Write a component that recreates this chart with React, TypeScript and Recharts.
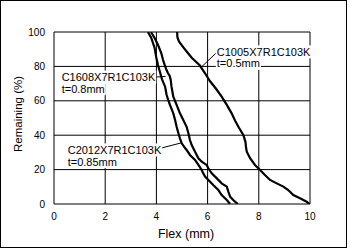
import React from 'react';
import { LineChart, Line, XAxis, YAxis, CartesianGrid, ReferenceLine, ReferenceDot } from 'recharts';

const xTicks = [0, 2, 4, 6, 8, 10];
const yTicks = [0, 20, 40, 60, 80, 100];

// C1005X7R1C103K t=0.5mm
const c1005Flex = [4.81, 4.82, 4.88, 5.12, 5.38, 5.70, 5.90, 6.09, 6.33, 6.55, 6.75, 6.94, 7.07, 7.22, 7.40, 7.48, 7.50, 7.53, 7.66, 7.85, 8.05, 8.24, 8.44, 8.70, 8.96, 9.15, 9.35, 9.61, 9.87, 9.98];
const c1005Remaining = [100, 97, 94.5, 89.8, 85, 80.5, 76, 71.5, 67, 62.4, 57.6, 52.7, 48.5, 44.5, 40, 36, 33, 30.4, 26.6, 22.7, 19.8, 16.9, 14.0, 12.0, 10.1, 8.1, 5.2, 3.3, 1.3, 0];

// C2012X7R1C103K t=0.85mm
const c2012Flex = [3.67, 3.80, 3.93, 4.00, 4.06, 4.13, 4.22, 4.34, 4.40, 4.46, 4.53, 4.66, 4.73, 4.79, 4.86, 4.92, 4.99, 5.08, 5.18, 5.31, 5.51, 5.64, 5.77, 5.83, 5.90, 6.03, 6.22, 6.42, 6.55, 6.75, 6.88];
const c2012Remaining = [100, 96.5, 90.7, 84.9, 81.0, 77.2, 72.5, 68.2, 63.4, 60.5, 57.6, 52.7, 48.8, 44.9, 41.1, 38.2, 35.3, 33.4, 31.4, 28.5, 25.6, 22.7, 19.8, 17.8, 15.9, 14.0, 11.0, 8.1, 5.2, 2.3, 0];

// C1608X7R1C103K t=0.8mm
const c1608Flex = [3.79, 3.93, 4.06, 4.19, 4.26, 4.32, 4.38, 4.45, 4.52, 4.56, 4.59, 4.66, 4.79, 4.92, 5.05, 5.18, 5.25, 5.31, 5.38, 5.51, 5.64, 5.77, 5.96, 6.03, 6.16, 6.36, 6.55, 6.75, 6.81, 6.88, 7.00, 7.18];
const c1608Remaining = [100, 96.5, 92.6, 87.8, 83.7, 81.0, 78.5, 76.2, 74.4, 72.1, 68.2, 62.4, 57.6, 52.7, 48.8, 44.9, 41.1, 37.2, 34.3, 30.4, 26.6, 24.6, 22.7, 20.8, 17.8, 14.9, 12.0, 10.1, 7.2, 4.2, 2.3, 0];

const annotationLines = [
  ['C1005X7R1C103K', 't=0.5mm'],
  ['C1608X7R1C103K', 't=0.8mm'],
  ['C2012X7R1C103K', 't=0.85mm'],
];
const annotationAnchorX = [6.36, 0.30, 0.535];
const annotationAnchorY = [88.5, 73.8, 31.4];
const arrowFrom = [{ x: 6.32, y: 87.6 }, { x: 3.96, y: 73.8 }, { x: 3.98, y: 31.7 }];
const arrowTo = [{ x: 5.77, y: 79.8 }, { x: 4.36, y: 74.2 }, { x: 4.96, y: 35.5 }];

const FONT = '"Liberation Sans", Arial, Helvetica, sans-serif';

const toPoints = (xs: number[], ys: number[]) => xs.map((x, i) => ({ x, y: ys[i] }));
const series = [
  { name: 'C1005X7R1C103K', data: toPoints(c1005Flex, c1005Remaining) },
  { name: 'C1608X7R1C103K', data: toPoints(c1608Flex, c1608Remaining) },
  { name: 'C2012X7R1C103K', data: toPoints(c2012Flex, c2012Remaining) },
];

let measureCtx: CanvasRenderingContext2D | null = null;
const measure = (s: string, size: number) => {
  if (!measureCtx) {
    const c = document.createElement('canvas');
    measureCtx = c.getContext('2d');
  }
  if (!measureCtx) return s.length * size * 0.6;
  measureCtx.font = `${size}px ${FONT}`;
  return measureCtx.measureText(s).width;
};

const makeAnnotation = (lines: string[]) => (props: any) => {
  const vb = props.viewBox || {};
  const cx = vb.x + (vb.width || 0) / 2;
  const cy = vb.y + (vb.height || 0) / 2;
  const lh = 11.6;
  return (
    <g>
      {lines.map((t, i) => {
        const w = measure(t, 11);
        return (
          <g key={i}>
            <rect x={cx - 1} y={cy + i * lh - 6.5} width={w + 2} height={13} fill="#fff" />
            <text x={cx} y={cy + i * lh} dominantBaseline="central" fontSize={11} fontFamily={FONT} fill="#000">
              {t}
            </text>
          </g>
        );
      })}
    </g>
  );
};

const YTitle = (props: any) => {
  const vb = props.viewBox;
  const x = vb.x + 18;
  const y = vb.y + vb.height / 2 - 4;
  return (
    <text x={x} y={y} transform={`rotate(-90, ${x}, ${y})`} textAnchor="middle" dominantBaseline="central" fontSize={11.5} fontFamily={FONT} fill="#000">
      Remaining (%)
    </text>
  );
};

const XTitle = (props: any) => {
  const vb = props.viewBox;
  const x = vb.x + vb.width / 2 + 4;
  const y = vb.y + 30;
  return (
    <text x={x} y={y} textAnchor="middle" dominantBaseline="central" fontSize={12.5} fontFamily={FONT} fill="#000">
      Flex (mm)
    </text>
  );
};

export default function App() {
  return (
    <div style={{ position: 'absolute', left: 0, top: 0, width: 350, height: 249, background: '#fff' }}>
      <svg width={350} height={249} style={{ position: 'absolute', left: 0, top: 0 }}>
        <rect x={0.5} y={0.5} width={346} height={247} fill="none" stroke="#000" strokeWidth={1} />
      </svg>
      <div style={{ position: 'absolute', left: 0, top: 0 }}>
        <LineChart width={350} height={249} margin={{ top: 32, right: 40, left: 0, bottom: 0 }}>
          <CartesianGrid stroke="#000" strokeWidth={1} horizontalValues={yTicks} verticalValues={xTicks} />
          <XAxis
            type="number"
            dataKey="x"
            domain={[0, 10]}
            ticks={xTicks}
            height={45}
            tickLine={false}
            axisLine={false}
            tickMargin={3}
            tick={{ fontSize: 10, fontFamily: FONT, fill: '#000' }}
            allowDataOverflow
            label={{ content: XTitle }}
          />
          <YAxis
            type="number"
            dataKey="y"
            domain={[0, 100]}
            ticks={yTicks}
            width={54}
            tickLine={false}
            axisLine={false}
            tickMargin={3}
            tick={{ fontSize: 10, fontFamily: FONT, fill: '#000' }}
            allowDataOverflow
            label={{ content: YTitle }}
          />
          {annotationLines.map((lines, i) => (
            <ReferenceDot
              key={'a' + i}
              x={annotationAnchorX[i]}
              y={annotationAnchorY[i]}
              r={1}
              fill="none"
              stroke="none"
              ifOverflow="visible"
              label={{ content: makeAnnotation(lines) }}
            />
          ))}
          {series.map((s) => (
            <Line
              key={s.name}
              name={s.name}
              data={s.data}
              dataKey="y"
              type="linear"
              stroke="#000"
              strokeWidth={2.2}
              dot={false}
              activeDot={false}
              isAnimationActive={false}
            />
          ))}
          {arrowFrom.map((p, i) => (
            <ReferenceLine key={'r' + i} segment={[p, arrowTo[i]]} stroke="#000" strokeWidth={1} ifOverflow="visible" />
          ))}
        </LineChart>
      </div>
    </div>
  );
}
